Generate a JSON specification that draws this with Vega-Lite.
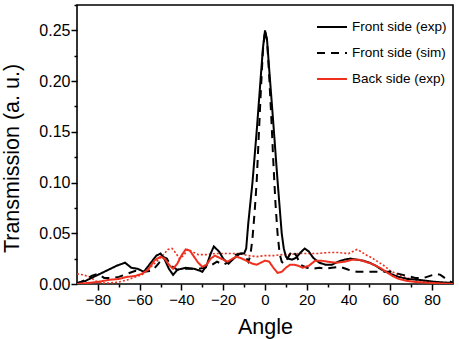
{
  "$schema": "https://vega.github.io/schema/vega-lite/v6.json",
  "width": 376,
  "height": 279,
  "autosize": {"type": "none"},
  "padding": {"left": 77, "top": 5, "right": 6, "bottom": 55},
  "background": "white",
  "config": {
    "font": "Liberation Sans",
    "view": {"stroke": "black", "strokeWidth": 1.6, "fill": null},
    "axis": {
      "grid": false,
      "domain": false,
      "ticks": true,
      "tickColor": "#000000",
      "tickOpacity": 1,
      "tickWidth": 1.5,
      "labelColor": "black",
      "titleColor": "black",
      "labelFont": "Liberation Sans",
      "titleFont": "Liberation Sans",
      "labelFontSize": 15,
      "titleFontSize": 21.5,
      "titleFontWeight": "normal"
    },
    "legend": {
      "labelFont": "Liberation Sans",
      "labelFontSize": 13.5,
      "labelColor": "black"
    }
  },
  "resolve": {"axis": {"x": "independent", "y": "independent"}},
  "datasets": {
    "curves": [
      {"series": "Front side (exp)", "angle": -90, "t": 0.001},
      {"series": "Front side (exp)", "angle": -86, "t": 0.003},
      {"series": "Front side (exp)", "angle": -83, "t": 0.006},
      {"series": "Front side (exp)", "angle": -79, "t": 0.010},
      {"series": "Front side (exp)", "angle": -75, "t": 0.014},
      {"series": "Front side (exp)", "angle": -71, "t": 0.018},
      {"series": "Front side (exp)", "angle": -67, "t": 0.021},
      {"series": "Front side (exp)", "angle": -64, "t": 0.016},
      {"series": "Front side (exp)", "angle": -61, "t": 0.015},
      {"series": "Front side (exp)", "angle": -58, "t": 0.012},
      {"series": "Front side (exp)", "angle": -55, "t": 0.020},
      {"series": "Front side (exp)", "angle": -52, "t": 0.028},
      {"series": "Front side (exp)", "angle": -50, "t": 0.030},
      {"series": "Front side (exp)", "angle": -48, "t": 0.024},
      {"series": "Front side (exp)", "angle": -46, "t": 0.015},
      {"series": "Front side (exp)", "angle": -44, "t": 0.009},
      {"series": "Front side (exp)", "angle": -42, "t": 0.014},
      {"series": "Front side (exp)", "angle": -38, "t": 0.016},
      {"series": "Front side (exp)", "angle": -34, "t": 0.015},
      {"series": "Front side (exp)", "angle": -31, "t": 0.013},
      {"series": "Front side (exp)", "angle": -30, "t": 0.012},
      {"series": "Front side (exp)", "angle": -28, "t": 0.018},
      {"series": "Front side (exp)", "angle": -26, "t": 0.030},
      {"series": "Front side (exp)", "angle": -24.5, "t": 0.037},
      {"series": "Front side (exp)", "angle": -22, "t": 0.032},
      {"series": "Front side (exp)", "angle": -20, "t": 0.025},
      {"series": "Front side (exp)", "angle": -17.5, "t": 0.020},
      {"series": "Front side (exp)", "angle": -15, "t": 0.025},
      {"series": "Front side (exp)", "angle": -12, "t": 0.030},
      {"series": "Front side (exp)", "angle": -10, "t": 0.030},
      {"series": "Front side (exp)", "angle": -9, "t": 0.035},
      {"series": "Front side (exp)", "angle": -8, "t": 0.060},
      {"series": "Front side (exp)", "angle": -6, "t": 0.100},
      {"series": "Front side (exp)", "angle": -4, "t": 0.150},
      {"series": "Front side (exp)", "angle": -2, "t": 0.205},
      {"series": "Front side (exp)", "angle": -1, "t": 0.232},
      {"series": "Front side (exp)", "angle": 0, "t": 0.250},
      {"series": "Front side (exp)", "angle": 1, "t": 0.240},
      {"series": "Front side (exp)", "angle": 2, "t": 0.212},
      {"series": "Front side (exp)", "angle": 4, "t": 0.158},
      {"series": "Front side (exp)", "angle": 6, "t": 0.102},
      {"series": "Front side (exp)", "angle": 8, "t": 0.050},
      {"series": "Front side (exp)", "angle": 9, "t": 0.035},
      {"series": "Front side (exp)", "angle": 10, "t": 0.027},
      {"series": "Front side (exp)", "angle": 11, "t": 0.025},
      {"series": "Front side (exp)", "angle": 13, "t": 0.024},
      {"series": "Front side (exp)", "angle": 15, "t": 0.026},
      {"series": "Front side (exp)", "angle": 17, "t": 0.031},
      {"series": "Front side (exp)", "angle": 19, "t": 0.035},
      {"series": "Front side (exp)", "angle": 21, "t": 0.032},
      {"series": "Front side (exp)", "angle": 23, "t": 0.026},
      {"series": "Front side (exp)", "angle": 26, "t": 0.021},
      {"series": "Front side (exp)", "angle": 29, "t": 0.019},
      {"series": "Front side (exp)", "angle": 32, "t": 0.019},
      {"series": "Front side (exp)", "angle": 35, "t": 0.022},
      {"series": "Front side (exp)", "angle": 38, "t": 0.024},
      {"series": "Front side (exp)", "angle": 41, "t": 0.025},
      {"series": "Front side (exp)", "angle": 44, "t": 0.024},
      {"series": "Front side (exp)", "angle": 47, "t": 0.023},
      {"series": "Front side (exp)", "angle": 50, "t": 0.021},
      {"series": "Front side (exp)", "angle": 53, "t": 0.018},
      {"series": "Front side (exp)", "angle": 56, "t": 0.014},
      {"series": "Front side (exp)", "angle": 60, "t": 0.010},
      {"series": "Front side (exp)", "angle": 64, "t": 0.007},
      {"series": "Front side (exp)", "angle": 68, "t": 0.005},
      {"series": "Front side (exp)", "angle": 74, "t": 0.004},
      {"series": "Front side (exp)", "angle": 82, "t": 0.002},
      {"series": "Front side (exp)", "angle": 90, "t": 0.001},

      {"series": "Front side (sim)", "angle": -90, "t": 0.000},
      {"series": "Front side (sim)", "angle": -88, "t": 0.002},
      {"series": "Front side (sim)", "angle": -86, "t": 0.004},
      {"series": "Front side (sim)", "angle": -83, "t": 0.008},
      {"series": "Front side (sim)", "angle": -80, "t": 0.010},
      {"series": "Front side (sim)", "angle": -77, "t": 0.006},
      {"series": "Front side (sim)", "angle": -73, "t": 0.006},
      {"series": "Front side (sim)", "angle": -70, "t": 0.007},
      {"series": "Front side (sim)", "angle": -66, "t": 0.010},
      {"series": "Front side (sim)", "angle": -62, "t": 0.013},
      {"series": "Front side (sim)", "angle": -58, "t": 0.012},
      {"series": "Front side (sim)", "angle": -54, "t": 0.013},
      {"series": "Front side (sim)", "angle": -51, "t": 0.020},
      {"series": "Front side (sim)", "angle": -49, "t": 0.027},
      {"series": "Front side (sim)", "angle": -47, "t": 0.025},
      {"series": "Front side (sim)", "angle": -45, "t": 0.018},
      {"series": "Front side (sim)", "angle": -42, "t": 0.014},
      {"series": "Front side (sim)", "angle": -38, "t": 0.015},
      {"series": "Front side (sim)", "angle": -35, "t": 0.015},
      {"series": "Front side (sim)", "angle": -32, "t": 0.015},
      {"series": "Front side (sim)", "angle": -29, "t": 0.016},
      {"series": "Front side (sim)", "angle": -26, "t": 0.018},
      {"series": "Front side (sim)", "angle": -23, "t": 0.022},
      {"series": "Front side (sim)", "angle": -20, "t": 0.019},
      {"series": "Front side (sim)", "angle": -17, "t": 0.022},
      {"series": "Front side (sim)", "angle": -14, "t": 0.029},
      {"series": "Front side (sim)", "angle": -11, "t": 0.030},
      {"series": "Front side (sim)", "angle": -9, "t": 0.026},
      {"series": "Front side (sim)", "angle": -8, "t": 0.022},
      {"series": "Front side (sim)", "angle": -7, "t": 0.028},
      {"series": "Front side (sim)", "angle": -6, "t": 0.045},
      {"series": "Front side (sim)", "angle": -5, "t": 0.070},
      {"series": "Front side (sim)", "angle": -4, "t": 0.100},
      {"series": "Front side (sim)", "angle": -3, "t": 0.145},
      {"series": "Front side (sim)", "angle": -2, "t": 0.190},
      {"series": "Front side (sim)", "angle": -1, "t": 0.230},
      {"series": "Front side (sim)", "angle": 0, "t": 0.250},
      {"series": "Front side (sim)", "angle": 1, "t": 0.240},
      {"series": "Front side (sim)", "angle": 2, "t": 0.205},
      {"series": "Front side (sim)", "angle": 3, "t": 0.165},
      {"series": "Front side (sim)", "angle": 4, "t": 0.120},
      {"series": "Front side (sim)", "angle": 5, "t": 0.080},
      {"series": "Front side (sim)", "angle": 6, "t": 0.050},
      {"series": "Front side (sim)", "angle": 7, "t": 0.030},
      {"series": "Front side (sim)", "angle": 8, "t": 0.022},
      {"series": "Front side (sim)", "angle": 9, "t": 0.020},
      {"series": "Front side (sim)", "angle": 11, "t": 0.026},
      {"series": "Front side (sim)", "angle": 13, "t": 0.033},
      {"series": "Front side (sim)", "angle": 15, "t": 0.028},
      {"series": "Front side (sim)", "angle": 17, "t": 0.019},
      {"series": "Front side (sim)", "angle": 20, "t": 0.016},
      {"series": "Front side (sim)", "angle": 23, "t": 0.015},
      {"series": "Front side (sim)", "angle": 26, "t": 0.016},
      {"series": "Front side (sim)", "angle": 29, "t": 0.015},
      {"series": "Front side (sim)", "angle": 32, "t": 0.016},
      {"series": "Front side (sim)", "angle": 36, "t": 0.017},
      {"series": "Front side (sim)", "angle": 40, "t": 0.014},
      {"series": "Front side (sim)", "angle": 44, "t": 0.012},
      {"series": "Front side (sim)", "angle": 48, "t": 0.012},
      {"series": "Front side (sim)", "angle": 52, "t": 0.012},
      {"series": "Front side (sim)", "angle": 56, "t": 0.012},
      {"series": "Front side (sim)", "angle": 60, "t": 0.012},
      {"series": "Front side (sim)", "angle": 64, "t": 0.010},
      {"series": "Front side (sim)", "angle": 68, "t": 0.008},
      {"series": "Front side (sim)", "angle": 72, "t": 0.006},
      {"series": "Front side (sim)", "angle": 76, "t": 0.006},
      {"series": "Front side (sim)", "angle": 79, "t": 0.008},
      {"series": "Front side (sim)", "angle": 82, "t": 0.010},
      {"series": "Front side (sim)", "angle": 84, "t": 0.009},
      {"series": "Front side (sim)", "angle": 86, "t": 0.006},
      {"series": "Front side (sim)", "angle": 88, "t": 0.003},
      {"series": "Front side (sim)", "angle": 90, "t": 0.001},

      {"series": "Back side (exp)", "angle": -90, "t": 0.000},
      {"series": "Back side (exp)", "angle": -85, "t": 0.001},
      {"series": "Back side (exp)", "angle": -80, "t": 0.002},
      {"series": "Back side (exp)", "angle": -75, "t": 0.004},
      {"series": "Back side (exp)", "angle": -70, "t": 0.005},
      {"series": "Back side (exp)", "angle": -66, "t": 0.007},
      {"series": "Back side (exp)", "angle": -62, "t": 0.008},
      {"series": "Back side (exp)", "angle": -59, "t": 0.010},
      {"series": "Back side (exp)", "angle": -56, "t": 0.014},
      {"series": "Back side (exp)", "angle": -53, "t": 0.023},
      {"series": "Back side (exp)", "angle": -50, "t": 0.027},
      {"series": "Back side (exp)", "angle": -48, "t": 0.025},
      {"series": "Back side (exp)", "angle": -46, "t": 0.019},
      {"series": "Back side (exp)", "angle": -44, "t": 0.015},
      {"series": "Back side (exp)", "angle": -42, "t": 0.020},
      {"series": "Back side (exp)", "angle": -40, "t": 0.028},
      {"series": "Back side (exp)", "angle": -38, "t": 0.034},
      {"series": "Back side (exp)", "angle": -36, "t": 0.033},
      {"series": "Back side (exp)", "angle": -34, "t": 0.027},
      {"series": "Back side (exp)", "angle": -32, "t": 0.021},
      {"series": "Back side (exp)", "angle": -30, "t": 0.017},
      {"series": "Back side (exp)", "angle": -28, "t": 0.019},
      {"series": "Back side (exp)", "angle": -26, "t": 0.025},
      {"series": "Back side (exp)", "angle": -24, "t": 0.028},
      {"series": "Back side (exp)", "angle": -21, "t": 0.025},
      {"series": "Back side (exp)", "angle": -18, "t": 0.022},
      {"series": "Back side (exp)", "angle": -15.5, "t": 0.025},
      {"series": "Back side (exp)", "angle": -13.5, "t": 0.027},
      {"series": "Back side (exp)", "angle": -11, "t": 0.025},
      {"series": "Back side (exp)", "angle": -9, "t": 0.023},
      {"series": "Back side (exp)", "angle": -6, "t": 0.020},
      {"series": "Back side (exp)", "angle": -4, "t": 0.019},
      {"series": "Back side (exp)", "angle": -2, "t": 0.021},
      {"series": "Back side (exp)", "angle": 0, "t": 0.023},
      {"series": "Back side (exp)", "angle": 2, "t": 0.022},
      {"series": "Back side (exp)", "angle": 4, "t": 0.016},
      {"series": "Back side (exp)", "angle": 6, "t": 0.011},
      {"series": "Back side (exp)", "angle": 8, "t": 0.012},
      {"series": "Back side (exp)", "angle": 10, "t": 0.016},
      {"series": "Back side (exp)", "angle": 12, "t": 0.019},
      {"series": "Back side (exp)", "angle": 14, "t": 0.019},
      {"series": "Back side (exp)", "angle": 16, "t": 0.018},
      {"series": "Back side (exp)", "angle": 18, "t": 0.016},
      {"series": "Back side (exp)", "angle": 21, "t": 0.018},
      {"series": "Back side (exp)", "angle": 24, "t": 0.023},
      {"series": "Back side (exp)", "angle": 27, "t": 0.023},
      {"series": "Back side (exp)", "angle": 30, "t": 0.022},
      {"series": "Back side (exp)", "angle": 34, "t": 0.021},
      {"series": "Back side (exp)", "angle": 38, "t": 0.022},
      {"series": "Back side (exp)", "angle": 42, "t": 0.024},
      {"series": "Back side (exp)", "angle": 45, "t": 0.024},
      {"series": "Back side (exp)", "angle": 48, "t": 0.022},
      {"series": "Back side (exp)", "angle": 51, "t": 0.020},
      {"series": "Back side (exp)", "angle": 55, "t": 0.016},
      {"series": "Back side (exp)", "angle": 58, "t": 0.012},
      {"series": "Back side (exp)", "angle": 61, "t": 0.008},
      {"series": "Back side (exp)", "angle": 64, "t": 0.005},
      {"series": "Back side (exp)", "angle": 68, "t": 0.003},
      {"series": "Back side (exp)", "angle": 72, "t": 0.002},
      {"series": "Back side (exp)", "angle": 80, "t": 0.001},
      {"series": "Back side (exp)", "angle": 90, "t": 0.000}
    ],
    "backDotted": [
      {"angle": -90, "t": 0.010},
      {"angle": -87, "t": 0.009},
      {"angle": -84, "t": 0.007},
      {"angle": -81, "t": 0.003},
      {"angle": -78, "t": 0.001},
      {"angle": -74, "t": 0.001},
      {"angle": -70, "t": 0.002},
      {"angle": -66, "t": 0.004},
      {"angle": -62, "t": 0.007},
      {"angle": -59, "t": 0.009},
      {"angle": -56, "t": 0.014},
      {"angle": -52, "t": 0.022},
      {"angle": -49, "t": 0.028},
      {"angle": -46.5, "t": 0.034},
      {"angle": -44.5, "t": 0.035},
      {"angle": -42.5, "t": 0.030},
      {"angle": -41, "t": 0.025},
      {"angle": -39, "t": 0.028},
      {"angle": -37, "t": 0.034},
      {"angle": -35, "t": 0.032},
      {"angle": -32, "t": 0.029},
      {"angle": -28, "t": 0.029},
      {"angle": -24, "t": 0.030},
      {"angle": -20, "t": 0.030},
      {"angle": -16, "t": 0.030},
      {"angle": -12, "t": 0.030},
      {"angle": -8, "t": 0.028},
      {"angle": -4, "t": 0.027},
      {"angle": 0, "t": 0.028},
      {"angle": 4, "t": 0.028},
      {"angle": 8, "t": 0.029},
      {"angle": 12, "t": 0.029},
      {"angle": 16, "t": 0.030},
      {"angle": 20, "t": 0.030},
      {"angle": 25, "t": 0.030},
      {"angle": 30, "t": 0.031},
      {"angle": 35, "t": 0.031},
      {"angle": 40, "t": 0.030},
      {"angle": 42, "t": 0.032},
      {"angle": 44, "t": 0.034},
      {"angle": 46, "t": 0.032},
      {"angle": 48, "t": 0.029},
      {"angle": 51, "t": 0.026},
      {"angle": 54, "t": 0.022},
      {"angle": 57, "t": 0.018},
      {"angle": 60, "t": 0.013},
      {"angle": 63, "t": 0.010},
      {"angle": 66, "t": 0.007},
      {"angle": 70, "t": 0.005},
      {"angle": 75, "t": 0.003},
      {"angle": 80, "t": 0.002},
      {"angle": 85, "t": 0.001},
      {"angle": 90, "t": 0.001}
    ]
  },
  "layer": [
    {
      "data": {"name": "backDotted"},
      "mark": {"type": "line", "color": "#f0301e", "strokeWidth": 1.6, "strokeDash": [2, 2], "clip": true},
      "encoding": {
        "x": {
          "field": "angle",
          "type": "quantitative",
          "scale": {"domain": [-90, 90], "nice": false, "zero": false},
          "axis": {
            "orient": "bottom",
            "values": [-70, -50, -30, -10, 10, 30, 50, 70],
            "tickSize": 3,
            "labels": false,
            "title": null
          }
        },
        "y": {
          "field": "t",
          "type": "quantitative",
          "scale": {"domain": [0, 0.275], "nice": false},
          "axis": {
            "orient": "left",
            "values": [0.025, 0.075, 0.125, 0.175, 0.225, 0.275],
            "tickSize": 3,
            "labels": false,
            "title": null
          }
        }
      }
    },
    {
      "data": {"name": "curves"},
      "mark": {"type": "line", "strokeWidth": 2, "clip": true},
      "encoding": {
        "x": {
          "field": "angle",
          "type": "quantitative",
          "title": "Angle",
          "scale": {"domain": [-90, 90], "nice": false, "zero": false},
          "axis": {
            "orient": "bottom",
            "values": [-80, -60, -40, -20, 0, 20, 40, 60, 80],
            "tickSize": 6,
            "labelPadding": 2,
            "titlePadding": 9
          }
        },
        "y": {
          "field": "t",
          "type": "quantitative",
          "title": "Transmission (a. u.)",
          "scale": {"domain": [0, 0.275], "nice": false},
          "axis": {
            "orient": "left",
            "values": [0, 0.05, 0.1, 0.15, 0.2, 0.25],
            "format": ".2f",
            "tickSize": 6,
            "labelFontSize": 16,
            "labelPadding": 1,
            "titlePadding": 15,
            "titleY": 153
          }
        },
        "color": {
          "field": "series",
          "type": "nominal",
          "sort": ["Front side (exp)", "Front side (sim)", "Back side (exp)"],
          "scale": {
            "domain": ["Front side (exp)", "Front side (sim)", "Back side (exp)"],
            "range": ["black", "black", "#f0301e"]
          },
          "legend": {
            "title": null,
            "orient": "top-right",
            "offset": 6,
            "symbolType": "stroke",
            "symbolSize": 900,
            "symbolStrokeWidth": 2,
            "labelOffset": 4,
            "rowPadding": 3,
            "padding": 0
          }
        },
        "strokeDash": {
          "field": "series",
          "type": "nominal",
          "sort": ["Front side (exp)", "Front side (sim)", "Back side (exp)"],
          "scale": {
            "domain": ["Front side (exp)", "Front side (sim)", "Back side (exp)"],
            "range": [[1, 0], [8, 6], [1, 0]]
          },
          "legend": {
            "title": null,
            "orient": "top-right",
            "offset": 6,
            "symbolType": "stroke",
            "symbolSize": 900,
            "symbolStrokeWidth": 2,
            "labelOffset": 4,
            "rowPadding": 3,
            "padding": 0
          }
        }
      }
    }
  ]
}
